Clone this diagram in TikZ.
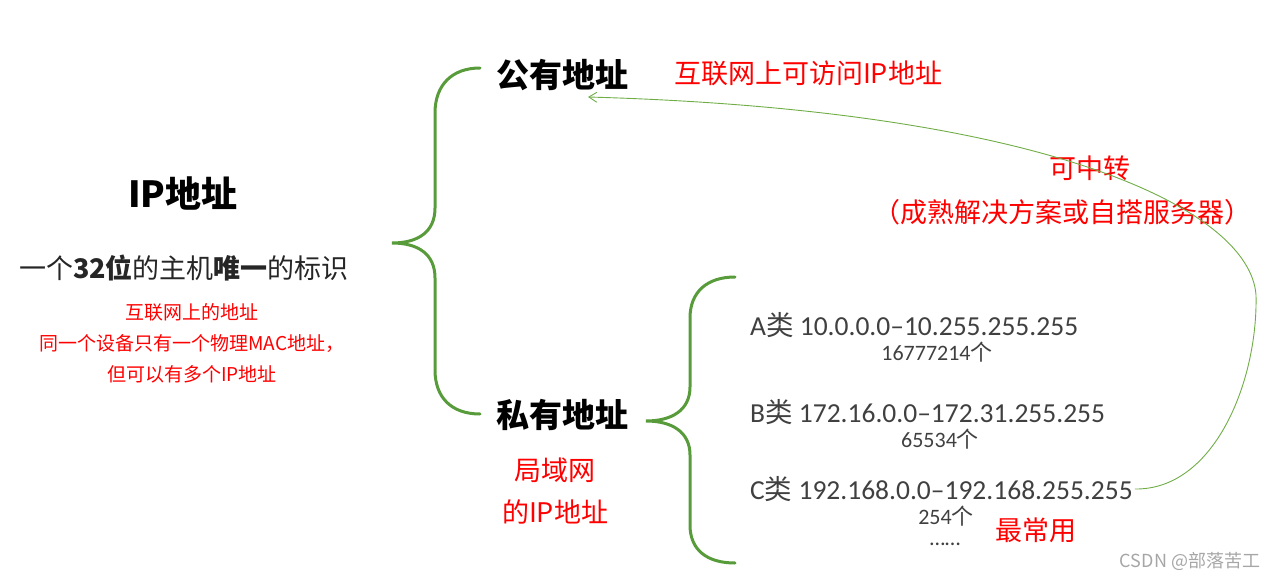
\documentclass[tikz,border=0pt]{standalone}
\usepackage{fontspec}
\setmainfont{Carlito}
\newfontfamily\cjk{Noto Sans CJK SC}
\usetikzlibrary{arrows.meta}

\definecolor{bracegreen}{RGB}{88,155,58}
\definecolor{linkgreen}{RGB}{112,173,71}
\definecolor{rangegray}{RGB}{64,64,64}
\newcommand{\fsize}[2]{\fontsize{#1}{#2}\selectfont}

\begin{document}
\begin{tikzpicture}[x=1pt, y=-1pt, >={Straight Barb[length=8pt,width=10pt]},
    brace/.style={bracegreen, line width=3pt, line cap=round},
    heading/.style={font=\cjk\bfseries\fsize{33}{40}},
    remark/.style={red, font=\cjk\fsize{27}{42}, align=center},
    iprange/.style={rangegray, anchor=west, inner sep=2pt, font=\fsize{27.5}{33}},
    amount/.style={rangegray, inner sep=2pt, font=\fsize{22}{26}}]
    \useasboundingbox (0,0) rectangle (1277,581);

    % IP address
    \node[font=\cjk\bfseries\fsize{36}{40}] (ip) at (183,193) {IP地址};
    \node[black!85, font=\cjk\fsize{27}{32}] (def) at (184,268) {一个\textbf{32位}的主机\textbf{唯一}的标识};
    \node[red, font=\cjk\fsize{19}{31}, align=center] (info) at (192,343) {互联网上的地址\\同一个设备只有一个物理MAC地址，\\但可以有多个IP地址};

    % Big brace
    \draw[brace] (480,68) .. controls (452,68) and (435,85) .. (435,113) -- (435,208)
        .. controls (435,232) and (418,243) .. (392,243)
        .. controls (418,243) and (435,254) .. (435,278) -- (435,370)
        .. controls (435,398) and (452,414) .. (480,414);

    % Public and private
    \node[heading] (pub) at (562,75) {公有地址};
    \node[heading] (priv) at (562,415) {私有地址};
    \node[remark] (pubnote) at (808,73) {互联网上可访问IP地址};
    \node[remark] (privnote) at (555,491) {局域网\\的IP地址};

    % Small brace
    \draw[brace] (735,277) .. controls (707,277) and (690,292) .. (690,318) -- (690,387)
        .. controls (690,410) and (672,421) .. (646,421)
        .. controls (672,421) and (690,432) .. (690,455) -- (690,525)
        .. controls (690,550) and (707,563) .. (735,563);

    % Address classes
    \foreach \cls/\lo/\hi/\y/\cnt/\nx in {A/10.0.0.0/10.255.255.255/325/16777214/937,
        B/172.16.0.0/172.31.255.255/412/65534/940,
        C/192.168.0.0/192.168.255.255/489/254/946} {
        \node[iprange] (class\cls) at (748,\y) {\cls{\cjk 类} \lo–\hi};
        \node[amount] (count\cls) at (\nx,\y+27) {\cnt{\cjk 个}};
    }
    \node[amount] (more) at (945,544) {……};
    \node[remark] (best) at (1036,530) {最常用};

    % Relay
    \node[remark] (relay) at (1090,168) {可中转};
    \node[remark] (how) at (1062,212) {（成熟解决方案或自搭服务器）};

    % Link back to public
    \coordinate (pubtip) at (588,97);
    \draw[->, linkgreen, line width=0.9pt] (classC.east) .. controls (1215,490) and (1258,380) .. (1256,295)
        .. controls (1250,210) and (1050,110) .. (pubtip);

    \node[gray!70, font=\cjk\fsize{18}{22}] (mark) at (1190,561) {CSDN @部落苦工};
\end{tikzpicture}
\end{document}
